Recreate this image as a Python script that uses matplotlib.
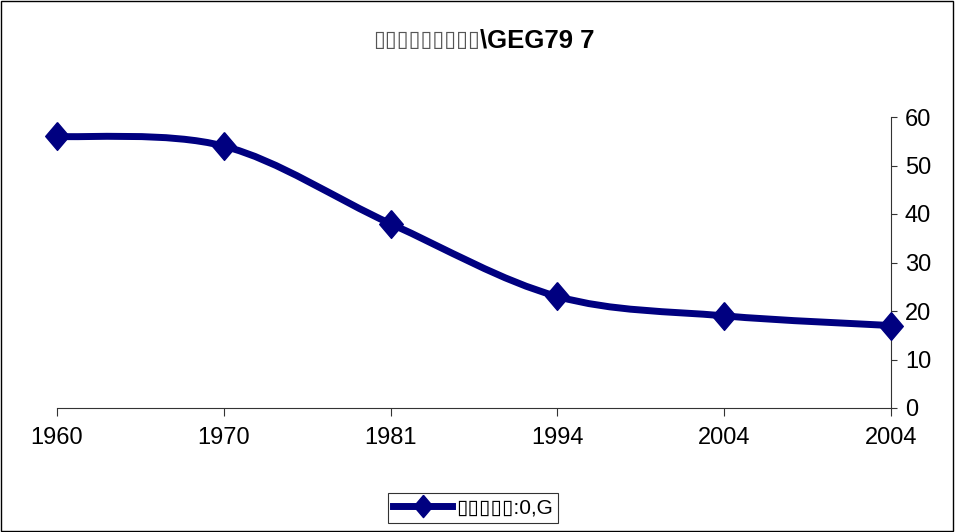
import matplotlib
matplotlib.use('Agg')
import matplotlib.pyplot as plt
from matplotlib.path import Path
from matplotlib.patches import PathPatch, Rectangle
from matplotlib.lines import Line2D

# 数据
years = ['1960', '1970', '1981', '1994', '2004', '2004']
values = [56, 54, 38, 23, 19, 17]
y_ticks = [0, 10, 20, 30, 40, 50, 60]
title_boxes = '\u25af' * 9
title_tail = '\\GEG79 7'
legend_text = '\u25af\u25af\u25af\u25af\u25af:0,G'

navy = '#000080'
plt.rcParams['font.family'] = ['Liberation Sans', 'DejaVu Sans']

fig = plt.figure(figsize=(9.55, 5.32), dpi=100)
ax = fig.add_axes([57 / 955, 1 - 408 / 532, (891 - 57) / 955, (408 - 117) / 532])

xs = list(range(len(values)))
# 略高于宽的菱形
diamond = [(0, 1), (0.85, 0), (0, -1), (-0.85, 0), (0, 1)]

# Excel 风格平滑线 (Catmull-Rom -> Bezier)
pts = list(zip(xs, values))
verts = [pts[0]]
codes = [Path.MOVETO]
for i in range(len(pts) - 1):
    p0 = pts[i - 1] if i > 0 else pts[i]
    p1 = pts[i]
    p2 = pts[i + 1]
    p3 = pts[i + 2] if i + 2 < len(pts) else pts[i + 1]
    c1 = (p1[0] + (p2[0] - p0[0]) / 6, p1[1] + (p2[1] - p0[1]) / 6)
    c2 = (p2[0] - (p3[0] - p1[0]) / 6, p2[1] - (p3[1] - p1[1]) / 6)
    verts += [c1, c2, p2]
    codes += [Path.CURVE4] * 3
ax.add_patch(PathPatch(Path(verts, codes), facecolor='none', edgecolor=navy,
                       lw=5, capstyle='round', joinstyle='round', zorder=3,
                       clip_on=False))
ax.plot(xs, values, linestyle='none', marker=diamond, ms=20, color=navy,
        zorder=4, clip_on=False)

ax.set_xlim(0, len(values) - 1)
ax.set_ylim(0, 60)
ax.set_xticks(xs)
ax.set_xticklabels(years)
ax.set_yticks(y_ticks)
ax.yaxis.tick_right()
for s in ['left', 'top']:
    ax.spines[s].set_visible(False)
for s in ['bottom', 'right']:
    ax.spines[s].set_linewidth(0.8)
    ax.spines[s].set_color('#333333')
ax.tick_params(axis='x', length=6, width=0.8, pad=8, labelsize=17, color='#333333')
ax.tick_params(axis='y', length=4, width=0.8, pad=6, labelsize=17, color='#333333')
ax.set_facecolor('none')

# 标题 (乱码原样保留)
fig.text(480 / 955, 1 - 40 / 532, title_boxes, ha='right', va='center',
         fontsize=15.5, family=['DejaVu Sans'], color='#555555')
fig.text(480 / 955, 1 - 40 / 532, title_tail, ha='left', va='center',
         fontsize=18.5, fontweight='bold', family=['Liberation Sans', 'DejaVu Sans'])

handle = Line2D([], [], color=navy, lw=5, marker=diamond, ms=16)
leg = fig.legend([handle], [legend_text], loc='center',
                 bbox_to_anchor=(473 / 955, 1 - 508 / 532),
                 frameon=True, fancybox=False, handlelength=2.8, handletextpad=0.2,
                 borderpad=0.25, prop={'family': ['Liberation Sans', 'DejaVu Sans'], 'size': 15})
leg.get_frame().set_edgecolor('black')
leg.get_frame().set_linewidth(0.8)

fig.patches.append(Rectangle((0.001, 0.002), 0.997, 0.996, transform=fig.transFigure,
                             fill=False, edgecolor='black', lw=1))

plt.savefig('out.png', dpi=100)
